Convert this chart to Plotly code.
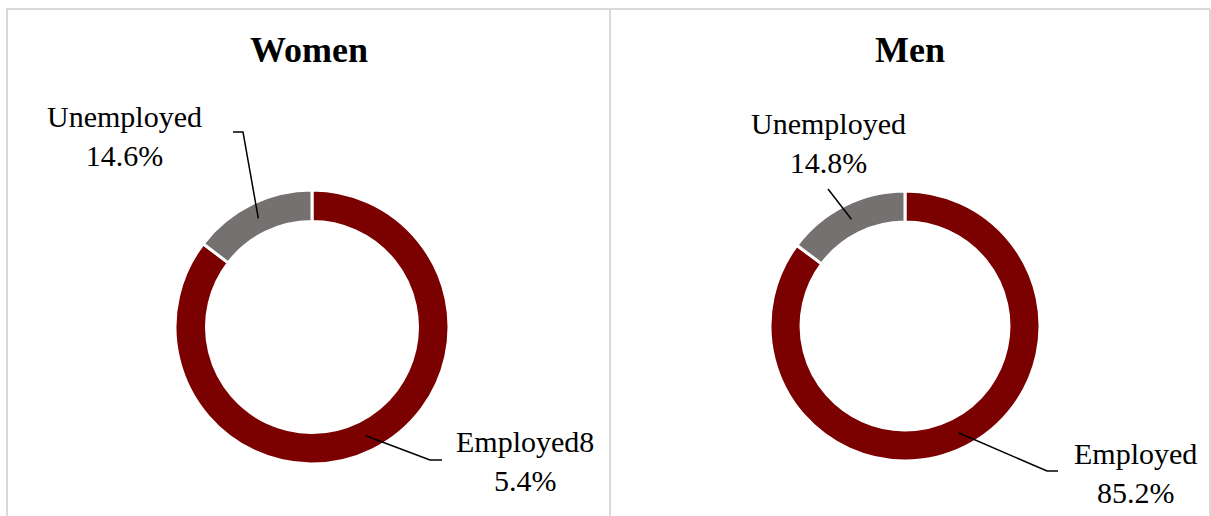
import math
import plotly.graph_objects as go

# ---- data -------------------------------------------------------------
categories = ["Employed", "Unemployed"]
women = [85.4, 14.6]
men = [85.2, 14.8]
groups = ["Women", "Men"]
values = {"Women": women, "Men": men}

# character position at which each "<category><value>%" label wraps
label_breaks = {"Women": [9, 10], "Men": [8, 10]}

# ---- style / layout ---------------------------------------------------
W, H = 1211, 516
colors = ["#7B0000", "#767171"]
FONT = "Liberation Serif, Times New Roman, serif"
HOLE = 0.77
BORDER = "#d9d9d9"

# pixel geometry of each panel: donut centre/radius, title, label centres,
# and the bend + end points of each leader line (anchor comes from the data)
panels = {
    "Women": dict(cx=312, cy=327, r=137, title=(309, 50),
                  labels=[(525, 461), (125, 136)],
                  leaders=[[(430, 460), (442, 460)], [(243, 132), (233, 132)]]),
    "Men": dict(cx=905, cy=326, r=135, title=(910, 50),
                labels=[(1135, 473), (829, 143)],
                leaders=[[(1047, 471), (1058, 471)], [(828, 189)]]),
}


def px(x, y):
    return x / W, 1 - y / H


fig = go.Figure()
shapes = []
annotations = []

for g in groups:
    p = panels[g]
    vals = values[g]
    x0, y0 = px(p["cx"] - p["r"], p["cy"] + p["r"])
    x1, y1 = px(p["cx"] + p["r"], p["cy"] - p["r"])
    fig.add_trace(go.Pie(
        labels=categories, values=vals, hole=HOLE, sort=False,
        direction="clockwise", rotation=0, textinfo="none",
        marker=dict(colors=colors, line=dict(color="white", width=3)),
        domain=dict(x=[x0, x1], y=[y0, y1]), showlegend=False, name=g,
    ))

    # title
    tx, ty = px(*p["title"])
    annotations.append(dict(x=tx, y=ty, xref="paper", yref="paper",
                            text=f"<b>{g}</b>", showarrow=False,
                            xanchor="center", yanchor="middle",
                            font=dict(family=FONT, size=36, color="black")))

    total = sum(vals)
    start = 0.0
    for i, (cat, v) in enumerate(zip(categories, vals)):
        # mid-angle of slice, measured clockwise from 12 o'clock
        theta = math.radians(360 * (start + v / 2) / total)
        start += v
        rr = p["r"] * (1 + HOLE) / 2
        ax = p["cx"] + rr * math.sin(theta)
        ay = p["cy"] - rr * math.cos(theta)
        pts = [(ax, ay)] + p["leaders"][i]
        path = "M " + " L ".join(
            "{:.5f},{:.5f}".format(*px(x, y)) for x, y in pts)
        shapes.append(dict(type="path", path=path, xref="paper", yref="paper",
                           line=dict(color="black", width=1.5)))

        raw = f"{cat}{v:.1f}%"
        b = label_breaks[g][i]
        text = raw[:b] + "<br>" + raw[b:]
        lx, ly = px(*p["labels"][i])
        annotations.append(dict(x=lx, y=ly, xref="paper", yref="paper",
                                text=text, showarrow=False,
                                xanchor="center", yanchor="middle",
                                align="center",
                                font=dict(family=FONT, size=30, color="black")))

# panel frames
for (xa, ya, xb, yb) in [(6, 9, 1210, 9), (7, 9, 7, 520),
                         (610, 9, 610, 520), (1210, 9, 1210, 520)]:
    a = px(xa, ya)
    b = px(xb, yb)
    shapes.append(dict(type="line", xref="paper", yref="paper",
                       x0=a[0], y0=a[1], x1=b[0], y1=b[1],
                       line=dict(color=BORDER, width=2)))

fig.update_layout(
    width=W, height=H,
    margin=dict(l=0, r=0, t=0, b=0),
    paper_bgcolor="white", plot_bgcolor="white",
    shapes=shapes, annotations=annotations,
)

fig.write_html("out.html")
